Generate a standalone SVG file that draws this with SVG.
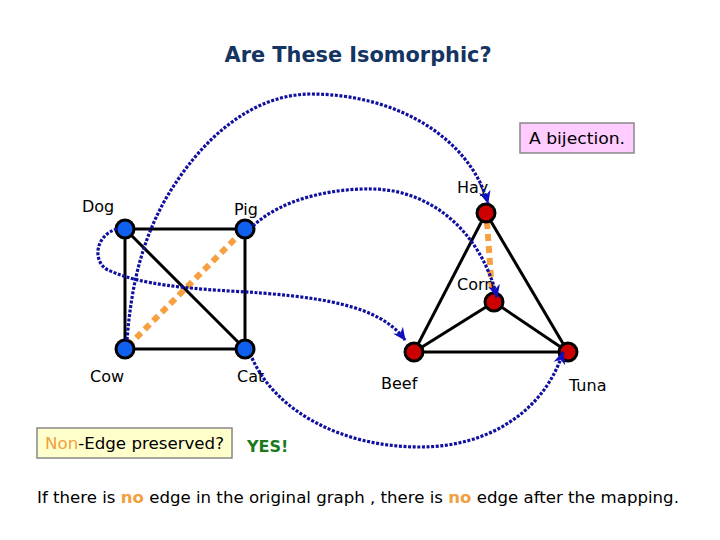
<svg xmlns="http://www.w3.org/2000/svg" width="720" height="540" viewBox="0 0 720 540">
<style>
text{font-family:"DejaVu Sans","Liberation Sans",sans-serif;fill:#000}
.lbl{font-size:16px}
.edge{stroke:#000;stroke-width:3;fill:none}
.non{stroke:#f7a040;stroke-width:6;stroke-dasharray:7 5;fill:none}
.map{stroke:#1010a0;stroke-width:3.2;stroke-dasharray:3 1.6;fill:none;marker-end:url(#ah)}
.bn{fill:#1060f0;stroke:#000;stroke-width:3}
.rn{fill:#cc0000;stroke:#000;stroke-width:3}
</style>
<defs>
<marker id="ah" markerUnits="userSpaceOnUse" markerWidth="14" markerHeight="14" viewBox="0 0 14 14" refX="12" refY="7" orient="auto">
<path d="M0,1 L13,7 L0,13 L4,7 Z" fill="#1010c0"/>
</marker>
</defs>
<rect width="720" height="540" fill="#fff"/>
<text x="358" y="62" text-anchor="middle" font-size="21" font-weight="bold" style="fill:#143462" textLength="267" lengthAdjust="spacingAndGlyphs">Are These Isomorphic?</text>
<g id="bijection">
<rect x="520" y="123" width="114" height="30" fill="#ffccff" stroke="#888" stroke-width="1.5"/>
<text x="577" y="144" text-anchor="middle" font-size="16" textLength="96" lengthAdjust="spacingAndGlyphs">A bijection.</text>
</g>
<g id="left-edges">
<line class="edge" x1="125" y1="229" x2="245" y2="229"/>
<line class="edge" x1="125" y1="229" x2="125" y2="349"/>
<line class="edge" x1="125" y1="229" x2="245" y2="349"/>
<line class="edge" x1="245" y1="229" x2="245" y2="349"/>
<line class="edge" x1="125" y1="349" x2="245" y2="349"/>
<line class="non" x1="243" y1="231" x2="130" y2="344"/>
</g>
<g id="right-edges">
<line class="edge" x1="486" y1="213" x2="414" y2="352"/>
<line class="edge" x1="486" y1="213" x2="568" y2="352"/>
<line class="edge" x1="414" y1="352" x2="568" y2="352"/>
<line class="edge" x1="494" y1="302" x2="414" y2="352"/>
<line class="edge" x1="494" y1="302" x2="568" y2="352"/>
<line class="non" x1="487" y1="222" x2="492" y2="292"/>
</g>
<g id="dog"><circle class="bn" cx="125" cy="229" r="9"/><text class="lbl" x="82" y="212">Dog</text></g>
<g id="pig"><circle class="bn" cx="245" cy="229" r="9"/><text class="lbl" x="234" y="215">Pig</text></g>
<g id="cow"><circle class="bn" cx="125" cy="349" r="9"/><text class="lbl" x="90" y="382">Cow</text></g>
<g id="cat"><circle class="bn" cx="245" cy="349" r="9"/><text class="lbl" x="237" y="382">Cat</text></g>
<g id="hay"><circle class="rn" cx="486" cy="213" r="9"/><text class="lbl" x="457" y="193">Hay</text></g>
<g id="corn"><circle class="rn" cx="494" cy="302" r="9"/><text class="lbl" x="457" y="290">Corn</text></g>
<g id="beef"><circle class="rn" cx="414" cy="352" r="9"/><text class="lbl" x="381" y="389">Beef</text></g>
<g id="tuna"><circle class="rn" cx="568" cy="352" r="9"/><text class="lbl" x="569" y="391">Tuna</text></g>
<g id="connectors">
<path class="map" d="M127,340 C131,290 140,245 165,200 C200,140 250,95 310,94 C400,94 470,140 488,203"/>
<path class="map" d="M253,226 C280,200 330,188 373,189 C430,190 480,230 497,297"/>
<path class="map" d="M117,229 C95,235 92,262 108,270 C130,280 160,287 230,291 C320,296 380,305 405,340"/>
<path class="map" d="M252,358 C275,410 340,447 420,447 C490,447 545,410 563,352"/>
</g>
<g id="nonedge-box">
<rect x="37" y="428" width="195" height="30" fill="#ffffcc" stroke="#888" stroke-width="1.5"/>
<text x="45" y="449" font-size="16" textLength="179" lengthAdjust="spacingAndGlyphs"><tspan style="fill:#f0a040">Non</tspan>-Edge preserved?</text>
</g>
<text x="247" y="452" font-size="16" font-weight="bold" style="fill:#1a7a1a">YES!</text>
<text x="37" y="503" font-size="16.6">If there is <tspan font-weight="bold" style="fill:#f0a040">no</tspan> edge in the original graph , there is <tspan font-weight="bold" style="fill:#f0a040">no</tspan> edge after the mapping.</text>
</svg>
